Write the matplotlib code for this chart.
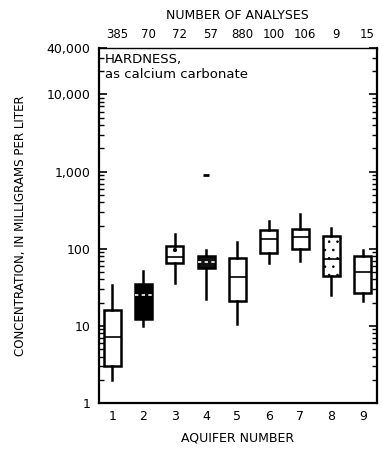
import numpy as np
import matplotlib
matplotlib.use("Agg")
import matplotlib.pyplot as plt

# Aquifer boxplot summaries (mg/L, hardness as CaCO3)
aquifers = [1, 2, 3, 4, 5, 6, 7, 8, 9]
n_analyses = [385, 70, 72, 57, 880, 100, 106, 9, 15]
whisker_lo = [2.0, 9.9, 36, 22, 10.5, 65, 70, 25, 21]
q1 = [3.0, 12.4, 65, 57, 21, 88, 98, 45, 27]
med = [7.1, 25, 78, 67, 43, 134, 141, 73, 50]
q3 = [16, 34.5, 108, 81, 76, 175, 182, 147, 80]
whisker_hi = [33.5, 52, 155, 95, 121, 226, 282, 184, 97]
outlier_x = [4]
outlier_y = [910]

ytick_vals = [1, 10, 100, 1000, 10000, 40000]
ytick_labels = ["1", "10", "100", "1,000", "10,000", "40,000"]

plt.rcParams['font.family'] = ['DejaVu Sans']
plt.rcParams['hatch.linewidth'] = 0.6

fig = plt.figure(figsize=(3.83, 4.49), dpi=100)
ax = fig.add_axes([0.2585, 0.1024, 0.7255, 0.7906])

stats = []
for i in range(len(aquifers)):
    stats.append({'whislo': whisker_lo[i], 'q1': q1[i], 'med': med[i],
                  'q3': q3[i], 'whishi': whisker_hi[i], 'fliers': []})

bp = ax.bxp(stats, positions=aquifers, widths=0.54, patch_artist=True,
            showcaps=False,
            boxprops=dict(linewidth=1.8, edgecolor='black', facecolor='white'),
            whiskerprops=dict(linewidth=1.8, color='black'),
            medianprops=dict(linewidth=1.2, color='black'))

# shaded boxes
bp['boxes'][1].set_facecolor('black')
bp['boxes'][3].set_facecolor('#111111')
bp['boxes'][7].set_facecolor('white')
bp['boxes'][7].set_hatch('..')
bp['boxes'][2].set_hatch('.')
for k in (1, 3):
    bp['medians'][k].set_color('white')
    bp['medians'][k].set_linestyle((0, (2, 2)))

ax.plot(outlier_x, outlier_y, marker='_', color='black', markersize=4,
        markeredgewidth=2, linestyle='none')

ax.set_yscale('log')
ax.set_ylim(1, 40000)
ax.set_xlim(0.58, 9.45)
ax.set_yticks(ytick_vals)
ax.set_yticklabels(ytick_labels, fontsize=9)
ax.yaxis.set_minor_locator(matplotlib.ticker.LogLocator(base=10, subs=np.arange(2, 10)))
ax.yaxis.set_minor_formatter(matplotlib.ticker.NullFormatter())
ax.tick_params(axis='y', which='major', direction='in', length=6, width=1.2,
               right=True, pad=6)
ax.tick_params(axis='y', which='minor', direction='in', length=3.5, width=1,
               right=True)
ax.set_xticks(aquifers)
ax.set_xticklabels([str(a) for a in aquifers], fontsize=9)
ax.tick_params(axis='x', length=0, pad=5)

for side in ('left', 'bottom', 'right'):
    ax.spines[side].set_linewidth(1.6)
ax.spines['top'].set_linewidth(1.0)

ax.set_xlabel("AQUIFER NUMBER", fontsize=9, labelpad=6)
ax.set_ylabel("CONCENTRATION, IN MILLIGRAMS PER LITER", fontsize=8.6, labelpad=14)

# number of analyses on top
for a, n in zip(aquifers, n_analyses):
    ax.text(a + 0.15, 1.02, str(n), transform=ax.get_xaxis_transform(),
            ha='center', va='bottom', fontsize=8.5)
fig.text(0.62, 0.965, "NUMBER OF ANALYSES", ha='center', va='center', fontsize=9)

ax.text(0.02, 0.985, "HARDNESS,\nas calcium carbonate", transform=ax.transAxes,
        ha='left', va='top', fontsize=9.5, linespacing=1.2)

fig.savefig("out.png", dpi=100)
